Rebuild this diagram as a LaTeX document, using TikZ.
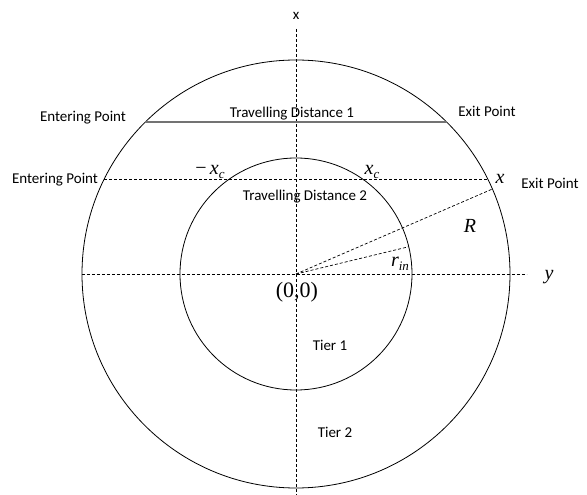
\documentclass[tikz,border=0pt]{standalone}
\usepackage{fontspec}
\setmainfont{Carlito}
\newfontfamily\tnr{Liberation Serif}
\usetikzlibrary{positioning}
\newcommand\lowsub[1]{\raisebox{-4pt}{\fontsize{13}{13}\selectfont #1}}
\tikzset{
  ring/.style={line width=0.8pt},
  axisline/.style={line width=0.7pt, dash pattern=on 3pt off 2pt},
  chord/.style={line width=1.7pt, color=black!55},
  lbl/.style={anchor=base, inner sep=0pt, font=\fontsize{15}{18}\selectfont},
  sym/.style={anchor=base, inner sep=0pt, font=\tnr\fontsize{20}{24}\selectfont\itshape}
}

\begin{document}
\begin{tikzpicture}[x=1pt,y=1pt]
    \useasboundingbox (-296,-221) rectangle (291,274);

    % 1. Centre and the two tiers
    \coordinate (O) at (0,0);
    \draw[ring] (O) circle (214pt);
    \draw[ring] (O) circle (116pt);

    % 2. Axes
    \coordinate (xtop) at (0,245);
    \coordinate (xbot) at (0,-221);
    \coordinate (yleft) at (-214,0);
    \coordinate (yright) at (231,0);
    \draw[axisline] (xtop) -- (xbot);
    \draw[axisline] (yleft) -- (yright);

    % 3. Travelling distance 1 (solid chord)
    \coordinate (E1) at (134.87:214);
    \coordinate (X1) at (45.13:214);
    \draw[chord] (E1) -- (X1);

    % 4. Travelling distance 2 (dashed chord)
    \coordinate (E2) at (153.64:214);
    \coordinate (X2) at (26.36:214);
    \draw[axisline] (E2) -- (X2);

    % 5. Radii
    \coordinate (Rend) at (23.4:214);
    \coordinate (rend) at (13.6:116);
    \draw[axisline] (O) -- (Rend);
    \draw[axisline] (O) -- (rend);

    % 6. Text labels
    \node[lbl] (xlab) at (0,254) {x};
    \node[lbl] (ent1) at (-213,152) {Entering Point};
    \node[lbl] (td1) at (-4,156) {Travelling Distance 1};
    \node[lbl] (ext1) at (191,157) {Exit Point};
    \node[lbl] (ent2) at (-241,90) {Entering Point};
    \node[lbl] (td2) at (9,73) {Travelling Distance 2};
    \node[lbl] (ext2) at (254,85) {Exit Point};
    \node[lbl] (tier1) at (34,-77) {Tier 1};
    \node[lbl] (tier2) at (39,-164) {Tier 2};

    % 7. Symbols
    \node[sym] (mxc) at (-86,99) {{\upshape −}\,x\lowsub{c}};
    \node[sym] (xc) at (76,99) {x\lowsub{c}};
    \node[sym] (xr) at (204,90) {x};
    \node[sym] (Rlab) at (174,41) {R};
    \node[sym] (rin) at (104,7) {r\lowsub{in}};
    \node[sym] (ylab) at (253,-6) {y};
    \node[sym, font=\tnr\fontsize{22}{24}\selectfont] (orig) at (1,-24) {(0,0)};

\end{tikzpicture}
\end{document}
